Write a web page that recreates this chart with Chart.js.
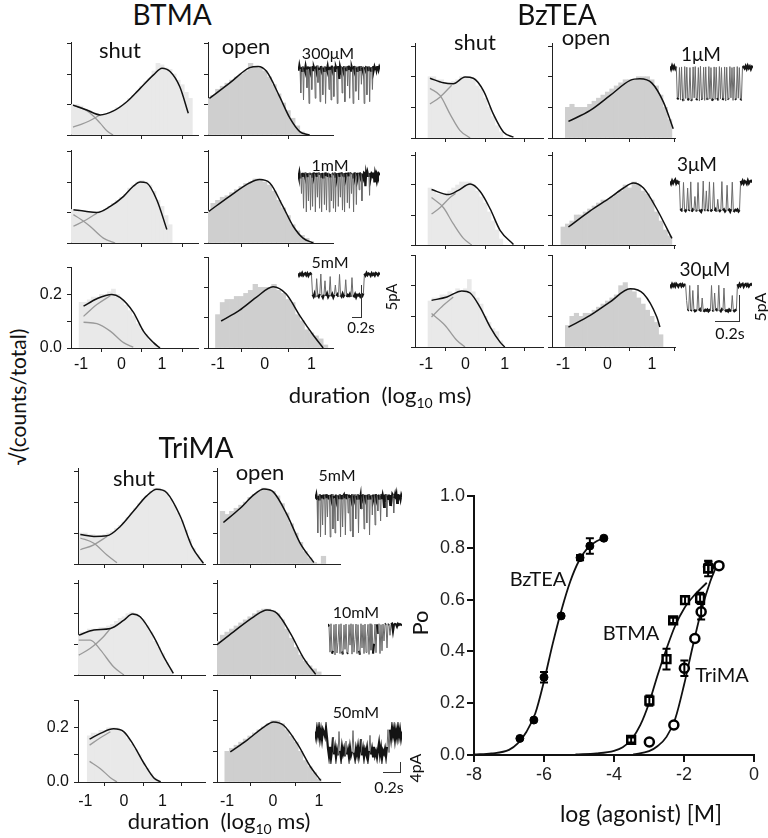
<!DOCTYPE html>
<html>
<head>
<meta charset="utf-8">
<script src="https://cdn.jsdelivr.net/npm/chart.js"></script>
<style>
  body { margin: 0; background: #fff; }
  #fig { position: relative; width: 768px; height: 838px; overflow: hidden; font-family: Lato, "Open Sans", sans-serif; color: #111; }
  #fig canvas { position: absolute; }
  .t { position: absolute; transform: translate(-50%, -50%); white-space: nowrap; line-height: 1; }
  .v { transform: translate(-50%, -50%) rotate(-90deg); }
  .rule { position: absolute; background: #333; }
</style>
</head>
<body>
<div id="fig"></div>
<script>
// ---- dwell-time histograms: bin heights (bin width 0.1 log units), first bin centre in *Start
// BTMA
const btmaShutAStart = -1.2;
const btmaShutA = [0.10,0.10,0.095,0.085,0.08,0.07,0.068,0.065,0.07,0.072,0.08,0.09,0.095,0.105,0.12,0.13,0.145,0.16,0.175,0.185,0.21,0.235,0.23,0.22,0.215,0.2,0.18,0.165,0.14,0.12];
const btmaShutAFit = [[-1.2,0.098],[-0.86,0.082],[-0.53,0.066],[-0.2,0.079],[0.13,0.109],[0.46,0.153],[0.79,0.197],[1.0,0.219],[1.2,0.208],[1.44,0.158],[1.65,0.071]];
const btmaShutAFast = [[-1.2,0.097],[-1.0,0.09],[-0.78,0.072],[-0.53,0.039],[-0.35,0.012],[-0.21,0]];
const btmaShutASlow = [[-1.2,0.026],[-1.0,0.035],[-0.8,0.046],[-0.53,0.066]];

const btmaShutBStart = -1.2;
const btmaShutB = [0.11,0.11,0.10,0.10,0.10,0.10,0.10,0.105,0.11,0.12,0.13,0.14,0.15,0.16,0.18,0.19,0.20,0.205,0.20,0.19,0.17,0.14,0.12,0.09,0.06];
const btmaShutBFit = [[-1.19,0.109],[-0.9,0.104],[-0.61,0.1],[-0.28,0.12],[0.05,0.153],[0.29,0.186],[0.46,0.2],[0.62,0.197],[0.87,0.142],[1.12,0.044]];
const btmaShutBFast = [[-1.19,0.093],[-1.0,0.077],[-0.78,0.055],[-0.45,0.016],[-0.16,0]];
const btmaShutBSlow = [[-1.19,0.055],[-0.86,0.077],[-0.61,0.098]];

const btmaShutCStart = -1.0;
const btmaShutC = [0.17,0.17,0.18,0.19,0.19,0.20,0.20,0.21,0.22,0.20,0.18,0.16,0.14,0.12,0.09,0.07,0.05,0.03,0.015,0.005];
const btmaShutCFit = [[-0.94,0.156],[-0.61,0.184],[-0.24,0.2],[-0.04,0.189],[0.29,0.134],[0.54,0.063],[0.79,0.02],[0.95,0]];
const btmaShutCFast = [[-0.94,0.096],[-0.61,0.091],[-0.28,0.063],[0.05,0.02],[0.29,0.003]];
const btmaShutCSlow = [[-0.94,0.118],[-0.61,0.162],[-0.28,0.195]];

const btmaOpenAStart = -1.2;
const btmaOpenA = [0.12,0.13,0.15,0.16,0.17,0.18,0.19,0.20,0.21,0.235,0.225,0.22,0.21,0.19,0.165,0.135,0.105,0.08,0.055,0.03,0.01,0.003];
const btmaOpenAFit = [[-1.18,0.12],[-0.75,0.17],[-0.32,0.221],[-0.14,0.225],[0.04,0.209],[0.32,0.126],[0.54,0.055],[0.75,0.011],[0.96,0]];
const btmaOpenBStart = -1.2;
const btmaOpenB = [0.105,0.13,0.14,0.15,0.155,0.165,0.175,0.185,0.195,0.20,0.21,0.21,0.20,0.19,0.17,0.14,0.115,0.09,0.06,0.04,0.025,0.015,0.005];
const btmaOpenBFit = [[-1.19,0.104],[-0.75,0.153],[-0.32,0.197],[-0.11,0.208],[0.11,0.197],[0.39,0.12],[0.61,0.055],[0.82,0.016],[1.04,0]];
const btmaOpenCStart = -1.0;
const btmaOpenC = [0.11,0.15,0.16,0.16,0.17,0.17,0.18,0.19,0.21,0.20,0.20,0.20,0.21,0.19,0.18,0.16,0.15,0.11,0.09,0.06,0.05,0.04,0.03,0.01];
const btmaOpenCFit = [[-0.93,0.089],[-0.54,0.124],[-0.18,0.167],[0.18,0.202],[0.46,0.178],[0.75,0.107],[1.04,0.042],[1.25,0]];

// BzTEA
const bzteaShutAStart = -0.9;
const bzteaShutA = [0.20,0.20,0.19,0.19,0.18,0.18,0.185,0.19,0.20,0.20,0.20,0.19,0.17,0.16,0.13,0.10,0.07,0.04,0.02];
const bzteaShutAFit = [[-0.9,0.195],[-0.56,0.18],[-0.31,0.177],[-0.01,0.199],[0.2,0.195],[0.46,0.154],[0.71,0.078],[0.97,0.019],[1.22,0.003]];
const bzteaShutAFast = [[-0.9,0.162],[-0.64,0.138],[-0.39,0.078],[-0.14,0.025],[0.12,0]];
const bzteaShutASlow = [[-0.9,0.111],[-0.64,0.134],[-0.35,0.172]];

const bzteaShutBStart = -0.9;
const bzteaShutB = [0.19,0.18,0.17,0.17,0.17,0.18,0.19,0.20,0.21,0.21,0.21,0.20,0.18,0.16,0.14,0.11,0.08,0.05,0.02];
const bzteaShutBFit = [[-0.86,0.185],[-0.43,0.168],[-0.18,0.182],[0.12,0.203],[0.37,0.179],[0.63,0.12],[0.88,0.049],[1.22,0.002]];
const bzteaShutBFast = [[-0.86,0.158],[-0.56,0.125],[-0.31,0.071],[-0.05,0.022],[0.16,0]];
const bzteaShutBSlow = [[-0.86,0.103],[-0.64,0.125],[-0.39,0.158],[-0.25,0.172]];

const bzteaShutCStart = -0.9;
const bzteaShutC = [0.15,0.16,0.16,0.17,0.17,0.18,0.17,0.19,0.18,0.19,0.22,0.18,0.16,0.14,0.10,0.08,0.06,0.05,0.02];
const bzteaShutCFit = [[-0.86,0.152],[-0.47,0.163],[-0.09,0.183],[0.12,0.176],[0.37,0.13],[0.63,0.065],[0.88,0.016],[1.0,0]];
const bzteaShutCFast = [[-0.86,0.109],[-0.52,0.071],[-0.22,0.022],[-0.01,0]];
const bzteaShutCSlow = [[-0.86,0.098],[-0.56,0.136],[-0.31,0.163]];

const bzteaOpenAStart = -0.9;
const bzteaOpenA = [0.10,0.11,0.10,0.10,0.10,0.11,0.12,0.13,0.14,0.15,0.16,0.17,0.18,0.19,0.19,0.19,0.20,0.20,0.20,0.19,0.17,0.14,0.10,0.06];
const bzteaOpenAFit = [[-0.88,0.054],[-0.39,0.09],[0.06,0.139],[0.51,0.188],[0.73,0.193],[1.0,0.179],[1.26,0.117],[1.48,0.03]];
const bzteaOpenBStart = -1.0;
const bzteaOpenB = [0.06,0.07,0.08,0.10,0.10,0.11,0.12,0.13,0.14,0.15,0.15,0.16,0.17,0.18,0.20,0.19,0.21,0.20,0.18,0.17,0.15,0.11,0.08,0.05,0.03];
const bzteaOpenBFit = [[-0.88,0.06],[-0.39,0.114],[0.06,0.158],[0.36,0.19],[0.58,0.207],[0.81,0.19],[1.11,0.12],[1.45,0.022]];
const bzteaOpenCStart = -0.9;
const bzteaOpenC = [0.07,0.10,0.11,0.10,0.11,0.11,0.12,0.13,0.14,0.15,0.16,0.17,0.20,0.21,0.19,0.18,0.16,0.14,0.12,0.10,0.08,0.04];
const bzteaOpenCFit = [[-0.88,0.065],[-0.39,0.103],[0.06,0.147],[0.51,0.19],[0.81,0.174],[1.11,0.098],[1.18,0.065]];

// TriMA
const trimaShutAStart = -1.1;
const trimaShutA = [0.10,0.10,0.095,0.095,0.09,0.09,0.095,0.10,0.105,0.115,0.125,0.135,0.15,0.165,0.18,0.195,0.21,0.22,0.235,0.245,0.245,0.24,0.23,0.21,0.19,0.165,0.14,0.11,0.08,0.05,0.03,0.01];
const trimaShutAFit = [[-1.13,0.095],[-0.78,0.089],[-0.44,0.091],[-0.09,0.122],[0.25,0.171],[0.59,0.22],[0.85,0.241],[1.11,0.23],[1.46,0.154],[1.76,0.057],[2.06,0.002]];
const trimaShutAFast = [[-1.13,0.084],[-0.78,0.067],[-0.44,0.029],[-0.18,0.004]];
const trimaShutASlow = [[-1.13,0.046],[-0.78,0.062],[-0.44,0.089]];

const trimaShutBStart = -1.2;
const trimaShutB = [0.13,0.14,0.14,0.15,0.15,0.15,0.155,0.155,0.16,0.165,0.175,0.185,0.19,0.20,0.205,0.20,0.19,0.18,0.16,0.14,0.11,0.09,0.07,0.04,0.02];
const trimaShutBFit = [[-1.17,0.13],[-0.78,0.147],[-0.35,0.152],[0,0.179],[0.22,0.199],[0.42,0.19],[0.77,0.125],[1.03,0.06],[1.28,0.005]];
const trimaShutBFast = [[-1.17,0.114],[-0.87,0.114],[-0.61,0.082],[-0.27,0.027],[0,0]];
const trimaShutBSlow = [[-1.17,0.065],[-0.87,0.087],[-0.53,0.125],[-0.35,0.152]];

const trimaShutCStart = -0.9;
const trimaShutC = [0.17,0.18,0.18,0.19,0.19,0.20,0.20,0.20,0.19,0.18,0.16,0.14,0.12,0.10,0.07,0.05,0.03,0.015,0.005];
const trimaShutCFit = [[-0.89,0.158],[-0.61,0.179],[-0.27,0.196],[0,0.185],[0.25,0.136],[0.51,0.071],[0.77,0.016],[0.95,0]];
const trimaShutCFast = [[-0.89,0.076],[-0.61,0.049],[-0.35,0.016],[-0.18,0]];
const trimaShutCSlow = [[-0.89,0.136],[-0.61,0.163],[-0.35,0.185]];

const trimaOpenAStart = -1.1;
const trimaOpenA = [0.17,0.16,0.17,0.18,0.19,0.20,0.215,0.225,0.235,0.245,0.24,0.235,0.22,0.195,0.165,0.13,0.10,0.07,0.04,0.02,0.005,0,0.025];
const trimaOpenAFit = [[-1.08,0.134],[-0.72,0.179],[-0.42,0.223],[-0.2,0.242],[0.01,0.232],[0.31,0.158],[0.6,0.065],[0.89,0.005]];
const trimaOpenBStart = -1.2;
const trimaOpenB = [0.11,0.13,0.14,0.15,0.16,0.17,0.18,0.19,0.20,0.21,0.215,0.215,0.21,0.20,0.18,0.15,0.12,0.09,0.065,0.045,0.03,0.02,0.01];
const trimaOpenBFit = [[-1.23,0.098],[-0.86,0.141],[-0.42,0.19],[-0.13,0.212],[0.09,0.201],[0.38,0.136],[0.67,0.054],[0.93,0.002]];
const trimaOpenCStart = -1.0;
const trimaOpenC = [0.10,0.11,0.12,0.13,0.14,0.15,0.16,0.17,0.18,0.19,0.20,0.20,0.19,0.17,0.15,0.13,0.10,0.07,0.05,0.03,0.01];
const trimaOpenCFit = [[-0.93,0.098],[-0.57,0.136],[-0.2,0.179],[0.01,0.196],[0.23,0.185],[0.53,0.125],[0.82,0.049],[1.04,0.005]];

// ---- single-channel traces (0 = closed, -1 = open current level)
const traceBtma300 = [0.05,-0.06,0.08,-0.03,-0.7,0.04,-0.07,0.06,-0.9,0.02,-0.05,0.07,-0.04,-0.55,0.06,-0.03,-1.0,0.05,-0.08,0.03,-0.6,0.07,-0.05,0.04,-0.02,-0.85,0.06,-0.06,0.08,-0.4,0.03,-0.05,-0.95,0.07,-0.04,0.05,-0.75,0.02,-0.07,0.06,-1.0,0.04,-0.03,0.07,-0.06,-0.6,0.05,-0.04,-0.9,0.08,-0.05,0.03,-0.8,0.06,-0.07,0.04,-0.02,-1.0,0.07,-0.05,-0.3,0.05,-0.03,0.06,-0.7,0.04,-0.06,0.07,-0.95,0.03,-0.05,0.06,-0.5,0.08,-0.04,-0.85,0.05,-0.06,0.04,-0.03,-1.0,0.07,-0.05,0.06,-0.65,0.03,-0.07,0.05,-0.9,0.06,-0.04,0.07,-0.45,0.02,-0.06,0.05,-1.0,0.04,-0.03,0.07,-0.75,0.05,-0.05,0.06,-0.95,0.03,-0.06,0.04,-0.6,0.07,-0.04,0.05,-0.02,0.06,-0.05,0.04,0.07,-0.03,0.05,0.0];
const traceBtma1 = [0.05,-0.04,0.07,-0.06,0.03,-0.5,0.06,-0.05,-0.9,0.04,-0.03,0.07,-1.0,0.05,-0.06,-0.7,0.03,0.06,-0.95,-0.04,0.05,-0.85,0.07,-0.03,0.04,-1.0,0.06,-0.05,-0.6,0.03,0.07,-0.9,-0.04,0.05,-1.0,0.06,-0.06,0.04,-0.8,0.07,-0.03,-0.95,0.05,-0.05,0.06,-1.0,0.03,-0.07,-0.7,0.05,0.04,-0.9,-0.04,0.07,-1.0,0.05,-0.06,0.03,-0.85,0.06,-0.05,-0.6,0.07,0.04,-0.95,-0.03,0.05,-1.0,0.06,-0.05,0.03,-0.75,0.07,-0.04,-0.9,0.05,0.06,-0.5,-0.06,0.04,-1.0,0.07,-0.03,0.05,-0.8,0.06,-0.05,0.04,-0.4,0.07,-0.04,0.05,-0.7,0.03,-0.06,0.06,0.04,-0.3,0.05,-0.05,0.07,-0.02,0.04,-0.55,0.06,-0.04,0.05,0.03,-0.06,0.07,-0.2,0.04,-0.05,0.06,0.02,-0.04,0.05,0.03,0.0];
const traceBtma5 = [0.05,-0.06,0.04,-0.03,0.07,-0.05,0.02,0.06,-0.04,0.05,-0.07,0.03,0.06,-0.02,-0.95,-1.05,-0.9,-1.08,-0.2,-0.98,-1.06,-0.92,0.02,-1.0,-1.1,-0.95,-0.3,-1.02,-0.9,-1.07,-0.97,-0.1,-1.04,-0.93,-1.08,-0.96,-0.5,-1.01,-0.94,-1.06,0.0,-0.98,-1.05,-0.91,-1.03,-0.95,-0.25,-1.07,-0.97,-1.02,-0.92,-1.06,-0.15,-0.99,-1.04,-0.93,-1.08,-0.96,-1.0,-0.94,-1.05,-0.97,-1.02,-0.9,0.04,-0.05,0.07,-0.03,0.05,0.02,-0.06,0.06,-0.02,0.04,-0.05,0.07,0.03,-0.04,0.05,0.0];
const traceBztea1 = [0.04,-0.05,0.06,-0.03,0.05,-0.04,0.03,-1.0,-0.95,0.0,-1.02,0.02,-0.98,-1.05,0.03,-0.97,0.01,-1.03,-0.96,0.0,-1.0,-1.04,0.02,-0.95,0.03,-1.02,-0.98,0.0,-1.05,0.04,-0.97,-1.0,0.01,-1.03,0.02,-0.96,-1.01,0.03,-0.99,0.0,-1.04,-0.97,0.02,-1.0,0.01,-0.95,-1.03,0.03,-0.98,0.0,-1.02,-0.96,0.02,-1.05,0.01,-0.97,-1.0,0.03,-0.95,0.0,-1.03,0.02,-0.98,-1.01,0.03,-0.96,0.0,-1.02,-0.99,0.04,0.02,-0.03,0.05,-0.04,0.06,-0.02,0.04,-0.05,0.03,0.0];
const traceBztea3 = [0.04,-0.05,0.06,-0.03,0.05,0.1,-0.04,0.03,-0.02,0.05,-1.0,-0.97,-1.03,0.0,-0.98,-1.02,-0.95,-0.2,-1.01,-0.97,0.02,-1.04,-0.96,-1.0,-0.5,-0.98,-1.03,0.0,-0.97,-1.01,-1.05,-0.95,0.05,-1.0,-0.98,-0.3,-1.02,-0.96,0.02,-1.03,-0.99,-0.97,0.0,-1.01,-0.95,-1.04,-0.6,-0.98,-1.02,-0.97,0.03,-1.0,-0.96,-1.03,-0.98,-0.1,-1.01,-0.97,-1.04,-0.95,0.01,-0.99,-1.02,-0.97,-1.0,-0.96,-1.03,-0.98,0.05,-0.03,0.06,-0.04,0.05,0.02,-0.05,0.07,-0.03,0.04,0.06,0.0];
const traceBztea30 = [0.04,-0.05,0.06,-0.03,0.05,-0.04,0.07,0.02,-0.05,0.04,0.06,-0.03,0.05,-0.02,0.03,0.05,-0.6,-1.0,-0.97,0.0,-1.02,-0.98,-0.2,-0.96,-1.03,-1.0,-0.98,0.02,-1.01,-0.95,-1.04,-0.5,-0.99,-1.02,-0.97,-1.0,-0.96,-1.03,-0.98,-1.01,0.0,-0.97,-1.04,-0.3,-1.0,-0.96,-1.02,0.01,-0.98,-1.03,-0.95,-1.0,-0.1,-0.97,-1.02,-0.99,-1.04,-0.96,-1.01,-0.98,-0.4,-0.97,-1.03,-1.0,-0.95,0.05,-0.04,0.06,-0.03,0.04,0.07,-0.05,0.03,0.06,-0.02,0.05,-0.04,0.03,0.06,0.0];
const traceTrima5 = [0.06,-0.04,0.05,-0.07,-0.9,0.03,-0.06,0.07,-1.0,0.05,-0.04,-0.7,0.06,-0.05,0.04,-0.95,0.07,-0.03,-0.5,0.05,-0.06,0.04,-1.0,0.06,-0.05,0.07,-0.8,0.03,-0.04,-0.9,0.06,-0.07,0.05,-0.6,0.04,-0.03,0.07,-1.0,0.05,-0.06,-0.75,0.03,0.06,-0.04,-0.95,0.07,-0.05,0.04,-0.4,0.06,-0.03,-0.85,0.05,-0.06,0.07,-1.0,0.04,-0.05,0.06,-0.55,0.03,-0.04,0.07,-0.9,0.05,-0.06,0.04,-0.3,0.06,-0.03,0.07,-0.8,0.05,-0.05,0.04,-0.65,0.06,-0.04,0.07,-0.95,0.03,-0.06,0.05,-0.45,0.06,-0.03,0.04,-0.7,0.07,-0.05,0.05,-0.35,0.06,-0.04,0.03,-0.6,0.07,-0.05,0.05,-0.04,-0.25,0.06,-0.03,0.07,-0.5,0.04,-0.05,0.06,-0.03,-0.2,0.05,-0.06,0.07,0.04,-0.4,-0.03,0.06,-0.05,0.05,-0.15,0.07,-0.04,0.03,0.06,-0.05,0.05,0.0];
const traceTrima10 = [0.05,-0.04,-0.95,0.06,-1.0,-0.9,0.03,-1.05,0.05,-0.98,-0.6,0.04,-1.0,0.06,-0.92,-1.03,0.02,-0.85,0.05,-1.0,-0.97,0.03,-0.7,0.06,-1.02,0.04,-0.95,-0.5,0.05,-1.0,0.03,-0.9,-1.04,0.06,-0.8,0.02,-1.0,0.05,-0.96,-0.4,0.04,-1.03,0.06,-0.88,0.03,-1.0,-0.65,0.05,-0.97,0.04,-0.3,0.06,-1.0,0.03,-0.9,0.05,-0.55,0.04,0.06,-0.8,0.02,0.05,-0.35,0.04,0.06,-0.2,0.03,0.05,0.04,-0.04,0.06,0.02,0.05,0.03,0.0];
const traceTrima50 = [0.1,-0.2,0.25,-0.1,0.3,-0.25,0.15,-0.3,0.2,0.05,-0.15,0.3,-0.2,-0.8,-1.2,-0.7,-1.3,-0.9,-0.2,-1.1,-0.75,-1.25,-0.85,-1.15,0.1,-0.9,-1.3,-0.7,-1.05,-0.8,-1.2,-0.4,-1.1,-0.85,-1.25,-0.75,-1.15,-0.95,0.15,-1.0,-1.3,-0.8,-1.1,-0.7,-1.2,-0.9,-0.3,-1.15,-0.8,-1.25,-0.85,-1.05,-0.75,-1.3,-0.9,-0.1,-1.1,-0.8,-1.2,-0.7,-1.15,-0.95,-1.25,-0.85,-0.5,-1.1,-0.75,-1.3,-0.9,-1.05,-0.8,-1.2,-0.7,0.2,-1.0,0.2,-0.25,0.3,-0.1,0.25,-0.3,0.15,-0.2,0.3,-0.15,0.2,-0.25,0.1];

// ---- concentration-response (log [M], Po, SEM)
const bzteaLogC = [-6.69,-6.29,-6.0,-5.51,-4.97,-4.69,-4.29];
const bzteaPo = [0.064,0.135,0.30,0.537,0.762,0.807,0.837];
const bzteaErr = [0,0,0.02,0,0.01,0.03,0];
const btmaLogC = [-3.51,-2.99,-2.50,-2.31,-1.97,-1.54,-1.31];
const btmaPo = [0.058,0.21,0.37,0.52,0.598,0.606,0.72];
const btmaErr = [0.01,0.02,0.04,0.01,0.015,0.02,0.03];
const trimaLogC = [-2.99,-2.29,-1.99,-1.69,-1.51,-1.30,-1.0];
const trimaPo = [0.05,0.116,0.335,0.45,0.553,0.727,0.731];
const trimaErr = [0,0,0.03,0,0.03,0.02,0];
const bzteaCurve = [[-8,0.002],[-7.5,0.006],[-7,0.02],[-6.75,0.045],[-6.5,0.09],[-6.25,0.16],[-6,0.285],[-5.75,0.43],[-5.5,0.56],[-5.25,0.67],[-5,0.75],[-4.75,0.8],[-4.5,0.825],[-4.29,0.837]];
const btmaCurve = [[-5.1,0.002],[-4.5,0.006],[-4,0.016],[-3.75,0.03],[-3.5,0.06],[-3.25,0.115],[-3,0.2],[-2.75,0.31],[-2.5,0.41],[-2.25,0.5],[-2,0.565],[-1.75,0.61],[-1.5,0.645],[-1.35,0.665]];
const trimaCurve = [[-3.45,0.002],[-3,0.015],[-2.75,0.035],[-2.5,0.07],[-2.25,0.14],[-2,0.27],[-1.75,0.42],[-1.5,0.56],[-1.25,0.67],[-1.1,0.72]];
const doseXTicks = [-8,-6,-4,-2,0];
const doseYTicks = [0,0.2,0.4,0.6,0.8,1.0];

Chart.defaults.font.family = '"Liberation Sans", Arial, sans-serif';
Chart.defaults.color = '#111';

const fig = document.getElementById('fig');
const SHUT_FILL = '#e9e9e9', OPEN_FILL = '#cfcfcf', FIT = '#111', COMP = '#9a9a9a';
const pts = a => a.map(p => ({ x: p[0], y: p[1] }));

function txt(html, x, y, size, cls, font) {
  const d = document.createElement('div');
  d.className = 't' + (cls ? ' ' + cls : '');
  d.innerHTML = html;
  d.style.left = x + 'px';
  d.style.top = y + 'px';
  d.style.fontSize = size + 'px';
  if (font) d.style.fontFamily = font;
  fig.appendChild(d);
}
function rule(x, y, w, h) {
  const d = document.createElement('div');
  d.className = 'rule';
  Object.assign(d.style, { left: x + 'px', top: y + 'px', width: w + 'px', height: h + 'px' });
  fig.appendChild(d);
}

// box = [left, top, right, bottom] of the plot area on the page
function histPanel(box, xr, yTop, start, hist, fill, fit, fast, slow, showX, showY, xPad) {
  const [L, T, R, B] = box;
  const mL = 40, mT = 4, mR = 4, mB = 28;
  const c = document.createElement('canvas');
  c.width = R - L + mL + mR;
  c.height = B - T + mT + mB;
  c.style.left = (L - mL) + 'px';
  c.style.top = (T - mT) + 'px';
  fig.appendChild(c);
  const datasets = [
    { type: 'line', data: pts(fit), borderColor: FIT, borderWidth: 1.5, pointRadius: 0, cubicInterpolationMode: 'monotone', order: 0 }
  ];
  if (fast) datasets.push({ type: 'line', data: pts(fast), borderColor: COMP, borderWidth: 1.3, pointRadius: 0, cubicInterpolationMode: 'monotone', order: 1 });
  if (slow) datasets.push({ type: 'line', data: pts(slow), borderColor: COMP, borderWidth: 1.3, pointRadius: 0, cubicInterpolationMode: 'monotone', order: 1 });
  datasets.push({ type: 'bar', data: hist.map((v, i) => ({ x: start + i * 0.1, y: v })), backgroundColor: fill, borderWidth: 0, barPercentage: 1, categoryPercentage: 1, order: 5 });
  const axisGrid = { display: true, drawOnChartArea: false, drawTicks: true, tickLength: 4, color: '#222', lineWidth: 1 };
  new Chart(c, {
    type: 'bar',
    data: { datasets },
    options: {
      responsive: false, animation: false, events: [],
      layout: { padding: { top: mT, right: mR, left: 0, bottom: 0 } },
      plugins: { legend: { display: false }, tooltip: { enabled: false } },
      scales: {
        x: {
          type: 'linear', min: xr[0], max: xr[1], offset: false,
          grid: axisGrid, border: { color: '#222', width: 1 },
          afterBuildTicks: s => { s.ticks = [-1, 0, 1].map(v => ({ value: v })); },
          ticks: { display: showX, padding: xPad, font: { size: 16 }, color: '#111', callback: v => String(v) },
          afterFit: s => { s.height = mB; }
        },
        y: {
          min: 0, max: yTop,
          grid: axisGrid, border: { color: '#222', width: 1 },
          afterBuildTicks: s => { s.ticks = [0, 0.1, 0.2, 0.3].map(v => ({ value: v })); },
          ticks: { display: showY, padding: 5, font: { size: 16 }, color: '#111',
            callback: v => (v === 0 ? '0.0' : (Math.abs(v - 0.2) < 1e-9 ? '0.2' : '')) },
          afterFit: s => { s.width = mL; }
        }
      }
    }
  });
}

// levels (small steps) drawn dark and heavy, channel transitions thin and grey
function trace(vals, L, R, base, open, yMin, yMax, jump) {
  const amp = open - base;
  const step = jump || 0.35;
  const c = document.createElement('canvas');
  c.width = R - L;
  c.height = Math.round((yMax - yMin) * amp);
  c.style.left = L + 'px';
  c.style.top = Math.round(base - yMax * amp) + 'px';
  fig.appendChild(c);
  const isJump = ctx => Math.abs(ctx.p0.parsed.y - ctx.p1.parsed.y) > step;
  new Chart(c, {
    type: 'line',
    data: { labels: vals.map((_, i) => i), datasets: [{
      data: vals, borderColor: '#1a1a1a', borderWidth: 2, pointRadius: 0, tension: 0,
      segment: {
        borderColor: ctx => (isJump(ctx) ? '#6a6a6a' : '#141414'),
        borderWidth: ctx => (isJump(ctx) ? 1 : 2.2)
      }
    }] },
    options: {
      responsive: false, animation: false, events: [],
      layout: { padding: 0 },
      plugins: { legend: { display: false }, tooltip: { enabled: false } },
      scales: { x: { display: false }, y: { display: false, min: yMin, max: yMax } }
    }
  });
}

// ---- BTMA block
const btmaRows = [[42, 135], [150, 243], [257, 348]];
const btmaShutX = [-1.25, 1.89], btmaOpenX = [-1.21, 1.46];
histPanel([71, btmaRows[0][0], 198, btmaRows[0][1]], btmaShutX, 0.305, btmaShutAStart, btmaShutA, SHUT_FILL, btmaShutAFit, btmaShutAFast, btmaShutASlow, false, false, 3);
histPanel([71, btmaRows[1][0], 198, btmaRows[1][1]], btmaShutX, 0.305, btmaShutBStart, btmaShutB, SHUT_FILL, btmaShutBFit, btmaShutBFast, btmaShutBSlow, false, false, 3);
histPanel([71, btmaRows[2][0], 198, btmaRows[2][1]], btmaShutX, 0.3, btmaShutCStart, btmaShutC, SHUT_FILL, btmaShutCFit, btmaShutCFast, btmaShutCSlow, true, true, 3);
histPanel([208, btmaRows[0][0], 333, btmaRows[0][1]], btmaOpenX, 0.305, btmaOpenAStart, btmaOpenA, OPEN_FILL, btmaOpenAFit, null, null, false, false, 3);
histPanel([208, btmaRows[1][0], 333, btmaRows[1][1]], btmaOpenX, 0.305, btmaOpenBStart, btmaOpenB, OPEN_FILL, btmaOpenBFit, null, null, false, false, 3);
histPanel([208, btmaRows[2][0], 333, btmaRows[2][1]], btmaOpenX, 0.3, btmaOpenCStart, btmaOpenC, OPEN_FILL, btmaOpenCFit, null, null, true, false, 3);

// ---- BzTEA block
const bzRows = [[43, 138], [152, 245], [255, 347]];
const bzShutX = [-1.28, 1.97], bzOpenX = [-1.25, 1.52];
histPanel([415, bzRows[0][0], 543, bzRows[0][1]], bzShutX, 0.31, bzteaShutAStart, bzteaShutA, SHUT_FILL, bzteaShutAFit, bzteaShutAFast, bzteaShutASlow, false, false, 4);
histPanel([415, bzRows[1][0], 543, bzRows[1][1]], bzShutX, 0.31, bzteaShutBStart, bzteaShutB, SHUT_FILL, bzteaShutBFit, bzteaShutBFast, bzteaShutBSlow, false, false, 4);
histPanel([415, bzRows[2][0], 543, bzRows[2][1]], bzShutX, 0.3, bzteaShutCStart, bzteaShutC, SHUT_FILL, bzteaShutCFit, bzteaShutCFast, bzteaShutCSlow, true, false, 4);
histPanel([552, bzRows[0][0], 675, bzRows[0][1]], bzOpenX, 0.31, bzteaOpenAStart, bzteaOpenA, OPEN_FILL, bzteaOpenAFit, null, null, false, false, 4);
histPanel([552, bzRows[1][0], 675, bzRows[1][1]], bzOpenX, 0.31, bzteaOpenBStart, bzteaOpenB, OPEN_FILL, bzteaOpenBFit, null, null, false, false, 4);
histPanel([552, bzRows[2][0], 675, bzRows[2][1]], bzOpenX, 0.3, bzteaOpenCStart, bzteaOpenC, OPEN_FILL, bzteaOpenCFit, null, null, true, false, 4);

// ---- TriMA block
const trRows = [[468, 564], [580, 675], [690, 782]];
const trShutX = [-1.19, 2.1], trOpenX = [-1.22, 1.46];
histPanel([78, trRows[0][0], 205, trRows[0][1]], trShutX, 0.31, trimaShutAStart, trimaShutA, SHUT_FILL, trimaShutAFit, trimaShutAFast, trimaShutASlow, false, false, 6);
histPanel([78, trRows[1][0], 205, trRows[1][1]], trShutX, 0.31, trimaShutBStart, trimaShutB, SHUT_FILL, trimaShutBFit, trimaShutBFast, trimaShutBSlow, false, false, 6);
histPanel([78, trRows[2][0], 205, trRows[2][1]], trShutX, 0.3, trimaShutCStart, trimaShutC, SHUT_FILL, trimaShutCFit, trimaShutCFast, trimaShutCSlow, true, true, 6);
histPanel([217, trRows[0][0], 340, trRows[0][1]], trOpenX, 0.31, trimaOpenAStart, trimaOpenA, OPEN_FILL, trimaOpenAFit, null, null, false, false, 6);
histPanel([217, trRows[1][0], 340, trRows[1][1]], trOpenX, 0.31, trimaOpenBStart, trimaOpenB, OPEN_FILL, trimaOpenBFit, null, null, false, false, 6);
histPanel([217, trRows[2][0], 340, trRows[2][1]], trOpenX, 0.3, trimaOpenCStart, trimaOpenC, OPEN_FILL, trimaOpenCFit, null, null, true, false, 6);

// ---- traces
trace(traceBtma300, 298, 380, 68, 103, -1.3, 0.3);
trace(traceBtma1, 298, 380, 175, 212, -1.3, 0.3);
trace(traceBtma5, 298, 380, 274, 295, -1.4, 0.4);
trace(traceBztea1, 670, 753, 68, 100, -1.3, 0.3);
trace(traceBztea3, 670, 752, 182, 210, -1.3, 0.3);
trace(traceBztea30, 670, 752, 285, 310, -1.3, 0.3);
trace(traceTrima5, 315, 402, 497, 537, -1.3, 0.3);
trace(traceTrima10, 328, 402, 625, 653, -1.3, 0.3);
trace(traceTrima50, 315, 402, 733, 752, -1.6, 0.6, 0.7);

// ---- concentration-response plot
const errorBars = {
  id: 'errorBars',
  afterDatasetsDraw(chart) {
    const { ctx, scales: { x, y } } = chart;
    chart.data.datasets.forEach(ds => {
      if (!ds.errors) return;
      ctx.save();
      ctx.strokeStyle = '#000';
      ctx.lineWidth = 2;
      ds.data.forEach((p, j) => {
        const e = ds.errors[j];
        if (!e) return;
        const px = x.getPixelForValue(p.x);
        const y1 = y.getPixelForValue(p.y + e), y2 = y.getPixelForValue(p.y - e);
        ctx.beginPath();
        ctx.moveTo(px, y1); ctx.lineTo(px, y2);
        ctx.moveTo(px - 4, y1); ctx.lineTo(px + 4, y1);
        ctx.moveTo(px - 4, y2); ctx.lineTo(px + 4, y2);
        ctx.stroke();
      });
      ctx.restore();
    });
  }
};
(function () {
  const L = 474, T = 496, R = 754, B = 755;
  const cL = 414, cT = 480, cR = 768, cB = 795;
  const c = document.createElement('canvas');
  c.width = cR - cL; c.height = cB - cT;
  c.style.left = cL + 'px'; c.style.top = cT + 'px';
  fig.appendChild(c);
  const mk = (xs, ys) => xs.map((v, i) => ({ x: v, y: ys[i] }));
  const grid = { display: true, drawOnChartArea: false, drawTicks: true, tickLength: 7, color: '#111', lineWidth: 2 };
  new Chart(c, {
    type: 'scatter',
    data: {
      datasets: [
        { data: mk(bzteaLogC, bzteaPo), errors: bzteaErr, pointStyle: 'circle', pointRadius: 4, backgroundColor: '#000', borderColor: '#000', borderWidth: 1, order: 0 },
        { data: mk(btmaLogC, btmaPo), errors: btmaErr, pointStyle: 'rect', pointRadius: 5.5, backgroundColor: '#fff', borderColor: '#000', borderWidth: 2.5, order: 0 },
        { data: mk(trimaLogC, trimaPo), errors: trimaErr, pointStyle: 'circle', pointRadius: 4.5, backgroundColor: '#fff', borderColor: '#000', borderWidth: 2.5, order: 0 },
        { data: pts(bzteaCurve), showLine: true, borderColor: '#111', borderWidth: 1.8, pointRadius: 0, cubicInterpolationMode: 'monotone', order: 1 },
        { data: pts(btmaCurve), showLine: true, borderColor: '#111', borderWidth: 1.8, pointRadius: 0, cubicInterpolationMode: 'monotone', order: 1 },
        { data: pts(trimaCurve), showLine: true, borderColor: '#111', borderWidth: 1.8, pointRadius: 0, cubicInterpolationMode: 'monotone', order: 1 }
      ]
    },
    options: {
      responsive: false, animation: false, events: [],
      layout: { padding: { top: T - cT, right: cR - R, left: 0, bottom: 0 } },
      plugins: { legend: { display: false }, tooltip: { enabled: false } },
      scales: {
        x: {
          type: 'linear', min: -8, max: 0,
          grid, border: { color: '#111', width: 2 },
          afterBuildTicks: s => { s.ticks = doseXTicks.map(v => ({ value: v })); },
          ticks: { padding: 2, font: { size: 18 }, color: '#222', callback: v => String(v) },
          afterFit: s => { s.height = cB - B; }
        },
        y: {
          min: 0, max: 1,
          grid, border: { color: '#111', width: 2 },
          afterBuildTicks: s => { s.ticks = doseYTicks.map(v => ({ value: v })); },
          ticks: { padding: 2, font: { size: 18 }, color: '#222', callback: v => v.toFixed(1) },
          afterFit: s => { s.width = L - cL; }
        }
      }
    },
    plugins: [errorBars]
  });
})();

// ---- text
txt('BTMA', 172, 14, 28);
txt('BzTEA', 557, 14, 28);
txt('TriMA', 196, 447, 28);
txt('shut', 120, 50, 22); txt('open', 246, 46, 22);
txt('shut', 475, 42, 22); txt('open', 586, 37, 22);
txt('shut', 134, 478, 22); txt('open', 260, 472, 22);
txt('300μM', 328, 53, 16); txt('1mM', 330, 165, 16); txt('5mM', 330, 262, 16);
txt('1μM', 701, 53, 19); txt('3μM', 697, 163, 19); txt('30μM', 705, 268, 19);
txt('5mM', 337, 475, 16); txt('10mM', 356, 612, 16); txt('50mM', 356, 712, 16);
txt('duration&nbsp; (log<sub style="font-size:14px">10</sub> ms)', 380, 397, 22);
txt('duration&nbsp; (log<sub style="font-size:14px">10</sub> ms)', 219, 823, 22);
txt('√(counts/total)', 17, 397, 21, 'v');
txt('Po', 420, 623, 22, 'v');
txt('log (agonist) [M]', 641, 813, 23);
txt('BzTEA', 538, 578, 20);
txt('BTMA', 631, 632, 20);
txt('TriMA', 722, 674, 20);

// scale bars
rule(361, 285, 1, 33); rule(352, 317, 10, 1);
txt('0.2s', 361, 327, 15); txt('5pA', 391, 297, 15, 'v');
rule(739, 295, 1, 27); rule(715, 321, 25, 1);
txt('0.2s', 730, 333, 16); txt('5pA', 760, 307, 16, 'v');
rule(400, 762, 1, 11); rule(383, 772, 18, 1);
txt('0.2s', 389, 787, 16); txt('4pA', 415, 768, 16, 'v');
</script>
</body>
</html>
